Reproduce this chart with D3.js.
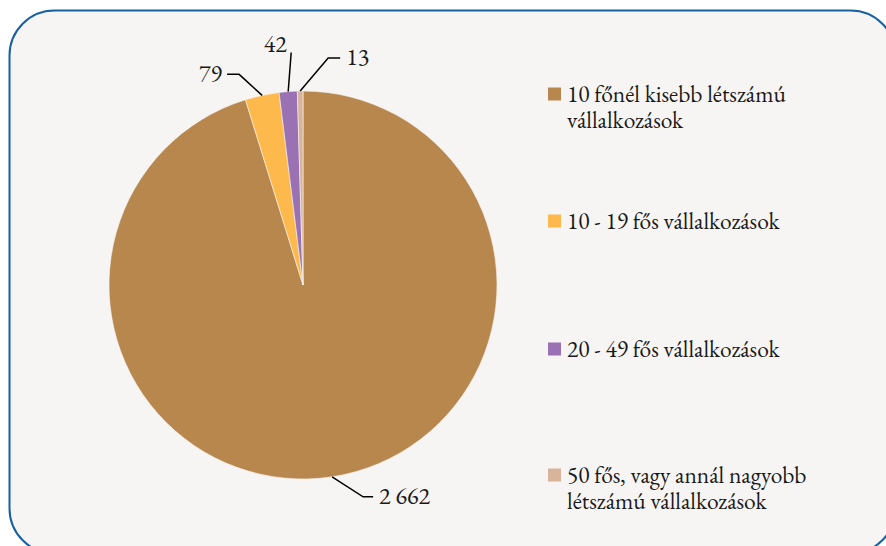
<!DOCTYPE html>
<html>
<head>
    <meta charset="UTF-8">
    <title>Vállalkozások létszám szerint</title>
    <script src="https://d3js.org/d3.v7.min.js"></script>
    <style>
        body {
            margin: 0;
            background: #ffffff;
        }
    </style>
</head>
<body>
    <svg id="chart"></svg>
    <script>
        const width = 886;
        const height = 546;
        const font = "EB Garamond, Liberation Serif, serif";

        // data
        const categories = [
            ["10 főnél kisebb létszámú", "vállalkozások"],
            ["10 - 19 fős vállalkozások"],
            ["20 - 49 fős vállalkozások"],
            ["50 fős, vagy annál nagyobb", "létszámú vállalkozások"]
        ];
        const values = [2662, 79, 42, 13];
        const valueLabels = ["2 662", "79", "42", "13"];
        const colors = ["#b8874e", "#fdb94b", "#9a72b3", "#d8b49b"];

        // leader line layout: elbow offset from slice edge, then horizontal run
        const leaders = [
            { dx: 31, dy: 20, run: 10 },
            { dx: -23, dy: -21, run: -12 },
            { dx: 3, dy: -39, run: 0 },
            { dx: 28, dy: -33, run: 12 }
        ];

        const svg = d3.select("#chart")
            .attr("width", width)
            .attr("height", height);

        svg.append("rect")
            .attr("x", 9.5)
            .attr("y", 10.5)
            .attr("width", 886)
            .attr("height", 543)
            .attr("rx", 45)
            .attr("fill", "#f7f5f3")
            .attr("stroke", "#1760a2")
            .attr("stroke-width", 2);

        const cx = 303, cy = 285, radius = 194;

        const pie = d3.pie().sort(null).value(d => d);
        const arcs = pie(values);
        const arc = d3.arc().innerRadius(0).outerRadius(radius);

        const g = svg.append("g").attr("transform", `translate(${cx},${cy})`);

        g.selectAll("path")
            .data(arcs)
            .join("path")
            .attr("d", arc)
            .attr("fill", (d, i) => colors[i])
            .attr("stroke", "#f7f5f3")
            .attr("stroke-width", 0.6);

        // labels with leader lines
        arcs.forEach((d, i) => {
            const a = (d.startAngle + d.endAngle) / 2;
            const p0 = [radius * Math.sin(a), -radius * Math.cos(a)];
            const L = leaders[i];
            const p1 = [p0[0] + L.dx, p0[1] + L.dy];
            const p2 = [p1[0] + L.run, p1[1]];
            g.append("polyline")
                .attr("points", [p0, p1, p2].map(p => p.join(",")).join(" "))
                .attr("fill", "none")
                .attr("stroke", "#000")
                .attr("stroke-width", 1.5);

            const t = g.append("text")
                .attr("font-family", font)
                .attr("font-size", 24)
                .attr("fill", "#1a1a1a")
                .text(valueLabels[i]);
            if (L.run > 0) {
                t.attr("x", p2[0] + 6).attr("y", p2[1]).attr("dy", "0.3em");
            } else if (L.run < 0) {
                t.attr("x", p2[0] - 5).attr("y", p2[1]).attr("dy", "0.3em").attr("text-anchor", "end");
            } else {
                t.attr("x", p2[0] - 16).attr("y", p2[1] - 1).attr("text-anchor", "middle");
            }
        });

        // legend
        const legendY = [94, 221, 349, 475];
        const legend = svg.append("g").attr("transform", "translate(548,0)");

        categories.forEach((lines, i) => {
            const item = legend.append("g").attr("transform", `translate(0,${legendY[i]})`);
            item.append("rect")
                .attr("x", 0)
                .attr("y", -6.5)
                .attr("width", 13)
                .attr("height", 13)
                .attr("fill", colors[i]);
            lines.forEach((line, j) => {
                item.append("text")
                    .attr("x", 19)
                    .attr("y", j * 26)
                    .attr("dy", "0.35em")
                    .attr("font-family", font)
                    .attr("font-size", 23.5)
                    .attr("fill", "#1a1a1a")
                    .text(line);
            });
        });
    </script>
</body>
</html>
